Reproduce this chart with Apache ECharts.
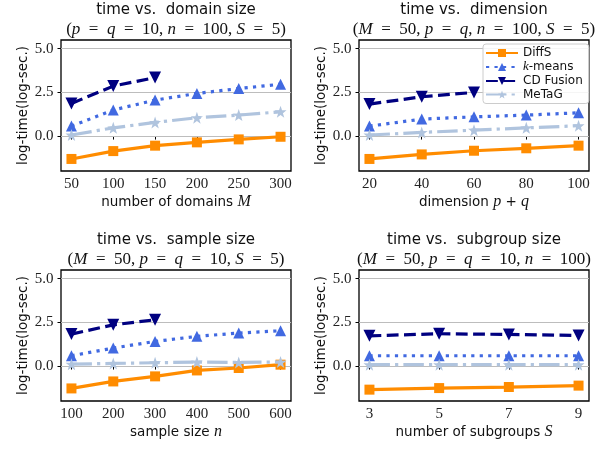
<!DOCTYPE html>
<html><head><meta charset="utf-8">
<script src="https://cdn.jsdelivr.net/npm/echarts@6/dist/echarts.min.js"></script>
<style>html,body{margin:0;padding:0;background:#fff}#c{width:608px;height:449px}</style>
</head><body><div id="c"></div>
<script>
// ---- data ----
const domainX = [50, 100, 150, 200, 250, 300];
const dimX = [20, 40, 60, 80, 100];
const sampleX = [100, 200, 300, 400, 500, 600];
const subX = [3, 5, 7, 9];

const diffS_M = [-1.31, -0.86, -0.55, -0.36, -0.19, -0.04];
const kmeans_M = [0.57, 1.49, 2.06, 2.44, 2.72, 2.97];
const cdf_M = [1.87, 2.86, 3.35];
const metag_M = [0.06, 0.47, 0.78, 1.05, 1.20, 1.39];

const diffS_D = [-1.31, -1.05, -0.84, -0.70, -0.55];
const kmeans_D = [0.57, 0.97, 1.10, 1.20, 1.33];
const cdf_D = [1.83, 2.25, 2.50];
const metag_D = [0.06, 0.21, 0.34, 0.47, 0.59];

const diffS_N = [-1.28, -0.88, -0.59, -0.25, -0.11, 0.08];
const kmeans_N = [0.59, 1.03, 1.41, 1.70, 1.89, 2.02];
const cdf_N = [1.83, 2.36, 2.65];
const metag_N = [0.11, 0.15, 0.19, 0.23, 0.21, 0.23];

const diffS_S = [-1.35, -1.26, -1.20, -1.12];
const kmeans_S = [0.59, 0.59, 0.59, 0.59];
const cdf_S = [1.73, 1.85, 1.81, 1.75];
const metag_S = [0.08, 0.08, 0.08, 0.08];

const yTicks = [0, 2.5, 5.0];
const seriesNames = ['DiffS', 'k-means', 'CD Fusion', 'MeTaG'];

// ---- styles ----
const SANS = 'DejaVu Sans';
const SERIF = 'Liberation Serif';
const colors = ['#ff8c00', '#4169e1', '#000080', '#b0c4de'];
const LW = 3.2;
const dashes = ['solid', [1 * LW, 1.65 * LW], [3.7 * LW, 1.7 * LW], [6.4 * LW, 1.6 * LW, 1 * LW, 1.6 * LW]];
const STAR = 'path://M0,-10 L2.35,-3.24 L9.51,-3.09 L3.8,1.24 L5.88,8.09 L0,4 L-5.88,8.09 L-3.8,1.24 L-9.51,-3.09 L-2.35,-3.24 Z';
const symbols = ['rect', 'triangle', 'triangle', STAR];
const symRot = [0, 0, 180, 0];
const symSize = [10, 11, 12, 12];

const EQ = '  =  ';
const panels = [
  { xs: domainX, ys: [diffS_M, kmeans_M, cdf_M, metag_M], left: 61, top: 40, t1: 'time vs.  domain size',
    t2: `{r|(}{i|p}{r|${EQ}}{i|q}{r|${EQ}10, }{i|n}{r|${EQ}100, }{i|S}{r|${EQ}5)}`, name: 'number of domains {i|M}' },
  { xs: dimX, ys: [diffS_D, kmeans_D, cdf_D, metag_D], left: 359, top: 40, t1: 'time vs.  dimension',
    t2: `{r|(}{i|M}{r|${EQ}50, }{i|p}{r|${EQ}}{i|q}{r|, }{i|n}{r|${EQ}100, }{i|S}{r|${EQ}5)}`, name: 'dimension {i|p}{t| + }{i|q}' },
  { xs: sampleX, ys: [diffS_N, kmeans_N, cdf_N, metag_N], left: 61, top: 270, t1: 'time vs.  sample size',
    t2: `{r|(}{i|M}{r|${EQ}50, }{i|p}{r|${EQ}}{i|q}{r|${EQ}10, }{i|S}{r|${EQ}5)}`, name: 'sample size {i|n}' },
  { xs: subX, ys: [diffS_S, kmeans_S, cdf_S, metag_S], left: 359, top: 270, t1: 'time vs.  subgroup size',
    t2: `{r|(}{i|M}{r|${EQ}50, }{i|p}{r|${EQ}}{i|q}{r|${EQ}10, }{i|n}{r|${EQ}100)}`, name: 'number of subgroups {i|S}' }
];
const W = 230, H = 131;

const grid = [], xAxis = [], yAxis = [], series = [], title = [];
panels.forEach((p, k) => {
  grid.push({ left: p.left, top: p.top, width: W, height: H, show: true, borderColor: '#000', borderWidth: 1.3, backgroundColor: 'transparent' });
  const xmin = p.xs[0], xmax = p.xs[p.xs.length - 1], pad = (xmax - xmin) * 0.05;
  xAxis.push({
    gridIndex: k, type: 'value', min: xmin - pad, max: xmax + pad,
    axisLine: { show: false }, splitLine: { show: false },
    axisTick: { show: true, customValues: p.xs, length: 3.5, lineStyle: { color: '#000', width: 1 } },
    axisLabel: { customValues: p.xs, margin: 6, fontFamily: SERIF, fontSize: 15, color: '#222' },
    name: p.name, nameLocation: 'middle', nameGap: 23,
    nameTextStyle: { fontFamily: SANS, fontSize: 13.5, color: '#111',
      rich: { i: { fontFamily: SERIF, fontStyle: 'italic', fontSize: 16, color: '#111' }, t: { fontFamily: SANS, fontSize: 13.5, color: '#111' } } }
  });
  yAxis.push({
    gridIndex: k, type: 'value', min: -2.0, max: 5.5,
    axisLine: { show: false }, splitLine: { show: false },
    axisTick: { show: true, customValues: yTicks, length: 3.5, lineStyle: { color: '#000', width: 1 } },
    axisLabel: { customValues: yTicks, margin: 7.5, fontFamily: SERIF, fontSize: 15, color: '#222', formatter: v => v.toFixed(1) },
    name: 'log-time(log-sec.)', nameLocation: 'middle', nameGap: 31,
    nameTextStyle: { fontFamily: SANS, fontSize: 13.5, color: '#111' }
  });
  const cx = p.left + W / 2;
  title.push({ text: p.t1, left: cx, top: p.top - 37, textAlign: 'center', padding: 0,
    textStyle: { fontFamily: SANS, fontSize: 15, fontWeight: 'normal', color: '#111' } });
  title.push({ text: p.t2, left: cx, top: p.top - 19, textAlign: 'center', padding: 0,
    textStyle: { fontSize: 17, fontWeight: 'normal', color: '#111',
      rich: { r: { fontFamily: SERIF, fontSize: 17, color: '#111' }, i: { fontFamily: SERIF, fontStyle: 'italic', fontSize: 17, color: '#111' } } } });
  p.ys.forEach((ys, s) => {
    const ser = {
      name: seriesNames[s], type: 'line', xAxisIndex: k, yAxisIndex: k,
      data: ys.map((v, i) => [p.xs[i], v]),
      symbol: symbols[s], symbolRotate: symRot[s], symbolSize: symSize[s], showSymbol: true,
      itemStyle: { color: colors[s], borderWidth: 0 },
      lineStyle: { color: colors[s], width: LW, type: dashes[s], cap: 'butt' },
      z: 3 + s, animation: false, silent: true
    };
    if (s === 0) {
      ser.markLine = { silent: true, symbol: 'none', z: 1, animation: false, label: { show: false },
        lineStyle: { color: '#bdbdbd', width: 1.2, type: 'solid' },
        data: yTicks.map(t => ({ yAxis: t })) };
    }
    series.push(ser);
  });
});

const chart = echarts.init(document.getElementById('c'), null, { renderer: 'canvas' });
chart.setOption({
  animation: false,
  title, grid, xAxis, yAxis, series,
  legend: {
    data: seriesNames, orient: 'vertical', left: 483, top: 44,
    itemWidth: 32, itemHeight: 10, itemGap: 1.5,
    backgroundColor: 'rgba(255,255,255,0.85)', borderColor: '#cccccc', borderWidth: 1, borderRadius: 3,
    padding: [3, 6, 3, 2],
    formatter: n => n === 'k-means' ? '{i|k}{t|-means}' : '{t|' + n + '}',
    textStyle: { fontFamily: SANS, fontSize: 12, color: '#111',
      rich: { i: { fontFamily: SERIF, fontStyle: 'italic', fontSize: 13, color: '#111' }, t: { fontFamily: SANS, fontSize: 12, color: '#111' } } }
  }
});
</script></body></html>
